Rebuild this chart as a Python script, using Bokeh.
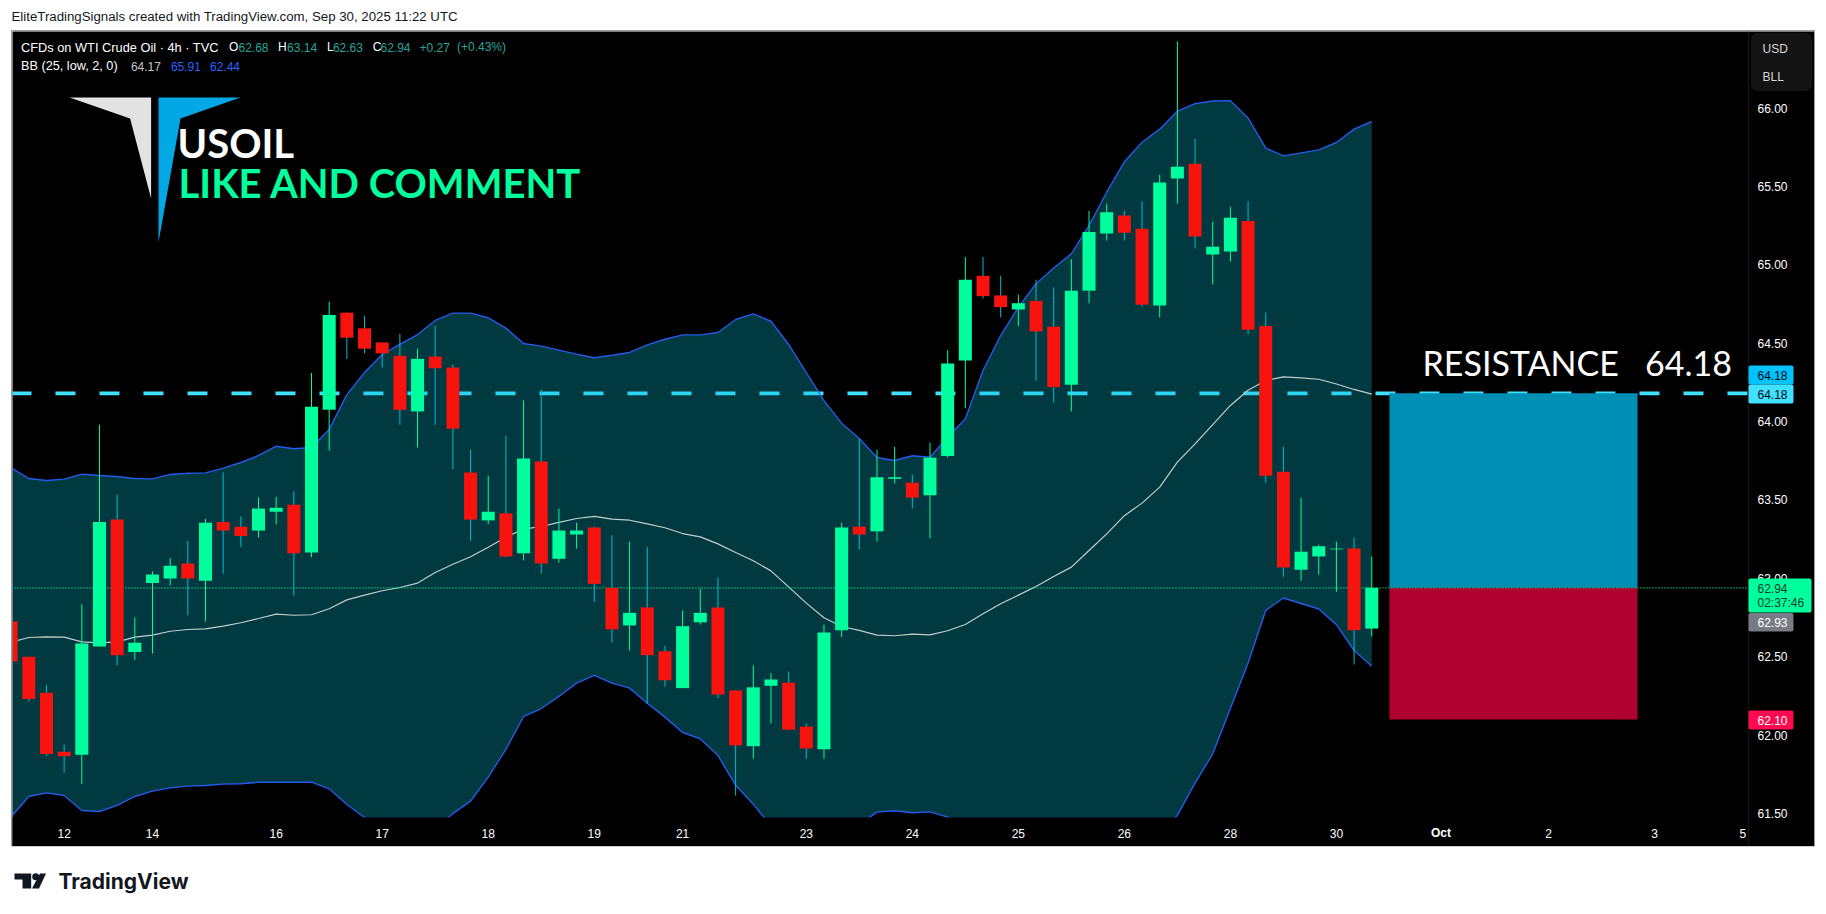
from bokeh.plotting import figure
from bokeh.layouts import column
from bokeh.models import (ColumnDataSource, Label, BoxAnnotation, Range1d, FixedTicker,
                          NumeralTickFormatter)
from bokeh.embed import file_html
from bokeh.resources import INLINE

# ---------- data: 4h candles, index 0 is the first one cut by the left edge ----------
open_ = [62.725,62.50,62.27,61.895,61.875,62.565,63.375,62.53,62.97,63.00,63.095,62.985,63.36,63.33,63.305,63.425,
         63.47,63.165,64.075,64.695,64.595,64.505,64.42,64.065,64.415,64.345,63.675,63.37,63.415,63.16,63.745,63.125,
         63.28,63.325,62.94,62.70,62.815,62.535,62.30,62.72,62.815,62.285,61.93,62.315,62.335,62.055,61.91,62.67,
         63.33,63.30,63.635,63.61,63.53,63.78,64.39,64.93,64.805,64.715,64.77,64.605,64.235,64.835,65.20,65.315,
         65.23,64.74,65.55,65.645,65.065,65.085,65.28,64.61,63.68,63.055,63.14,63.185,63.19,62.68]
high = [62.785,62.50,62.32,61.94,62.835,63.98,63.535,62.75,63.045,63.13,63.24,63.38,63.675,63.395,63.515,63.52,
        63.555,64.31,64.765,64.695,64.675,64.505,64.56,64.465,64.61,64.365,63.82,63.655,63.91,64.135,64.205,63.445,
        63.355,63.33,63.275,63.235,63.20,62.57,62.795,62.935,63.005,62.285,62.445,62.395,62.405,62.075,62.705,63.355,
        63.89,63.82,63.84,63.66,63.865,64.455,65.05,65.05,64.93,64.81,64.905,64.855,65.035,65.345,65.39,65.345,
        65.405,65.575,66.425,65.805,65.275,65.37,65.405,64.695,63.84,63.515,63.215,63.235,63.26,63.14]
low = [62.33,62.215,61.865,61.76,61.69,62.565,62.445,62.48,62.52,62.955,62.765,62.725,63.03,63.20,63.26,63.345,
       62.89,63.135,63.815,64.40,64.435,64.345,63.98,63.835,63.98,63.695,63.24,63.345,63.135,63.115,63.03,63.10,
       63.19,62.85,62.59,62.54,62.20,62.31,62.30,62.705,62.235,61.615,61.85,62.075,62.035,61.85,61.85,62.625,
       63.185,63.235,63.605,63.445,63.255,63.77,64.085,64.785,64.665,64.61,64.26,64.12,64.065,64.755,65.155,65.155,
       64.735,64.665,65.39,65.105,64.875,65.02,64.555,63.61,63.01,62.985,63.025,62.915,62.45,62.63]
close = [62.47,62.23,61.88,61.865,62.585,63.36,62.51,62.59,63.025,63.08,63.00,63.355,63.305,63.27,63.445,63.45,
         63.16,64.095,64.68,64.535,64.465,64.435,64.075,64.40,64.34,63.955,63.375,63.425,63.14,63.765,63.095,63.305,
         63.305,62.965,62.675,62.78,62.51,62.35,62.695,62.78,62.26,61.935,62.305,62.355,62.035,61.915,62.655,63.325,
         63.28,63.645,63.645,63.515,63.77,64.37,64.905,64.80,64.73,64.755,64.575,64.22,64.835,65.21,65.335,65.205,
         64.745,65.525,65.625,65.18,65.115,65.30,64.585,63.655,63.07,63.17,63.205,63.19,62.67,62.94]

bb_upper = [63.705,63.637,63.624,63.633,63.665,63.656,63.65,63.637,63.635,63.663,63.671,63.673,63.703,63.739,63.784,63.843,
            63.827,63.835,63.95,64.172,64.313,64.428,64.492,64.555,64.645,64.692,64.692,64.662,64.596,64.498,64.481,64.456,
            64.43,64.407,64.423,64.441,64.489,64.525,64.553,64.553,64.568,64.651,64.687,64.64,64.492,64.313,64.134,63.99,
            63.892,63.771,63.752,63.782,63.773,63.90,64.018,64.326,64.549,64.73,64.879,64.98,65.07,65.25,65.463,65.657,
            65.782,65.865,65.98,66.028,66.045,66.047,65.937,65.744,65.695,65.714,65.733,65.78,65.865,65.914]
bb_mid = [62.593,62.623,62.627,62.625,62.595,62.589,62.595,62.625,62.638,62.663,62.674,62.678,62.695,62.717,62.744,62.772,
          62.765,62.768,62.806,62.863,62.893,62.921,62.942,62.97,63.038,63.09,63.138,63.199,63.263,63.314,63.331,63.357,
          63.382,63.395,63.378,63.371,63.348,63.323,63.286,63.265,63.22,63.165,63.112,63.048,62.946,62.842,62.749,62.693,
          62.668,62.638,62.634,62.644,62.64,62.666,62.706,62.774,62.838,62.893,62.948,63.012,63.072,63.178,63.284,63.40,
          63.48,63.582,63.741,63.858,63.981,64.103,64.20,64.262,64.285,64.279,64.27,64.24,64.205,64.175]
bb_lower = [61.479,61.609,61.632,61.615,61.52,61.513,61.552,61.609,61.643,61.664,61.675,61.679,61.688,61.69,61.70,61.70,
            61.70,61.70,61.658,61.558,61.475,61.36,61.28,61.28,61.40,61.50,61.579,61.732,61.909,62.119,62.17,62.247,
            62.332,62.381,62.332,62.30,62.204,62.115,62.017,61.977,61.871,61.68,61.56,61.42,61.25,61.10,61.05,61.10,
            61.43,61.509,61.518,61.505,61.511,61.477,61.41,61.36,61.30,61.20,61.10,61.00,60.95,60.90,60.90,61.00,
            61.15,61.35,61.49,61.694,61.881,62.17,62.46,62.795,62.875,62.84,62.805,62.705,62.54,62.44]

bar_index = list(range(-1, len(open_) - 1))
date_ticks = [2, 7, 14, 20, 26, 32, 37, 44, 50, 56, 62, 68, 74, 80, 86, 92, 97]
date_labels = ["12", "14", "16", "17", "18", "19", "21", "23", "24", "25", "26", "28", "30", "", "2", "3", "5"]
price_ticks = [61.5, 62.0, 62.5, 63.0, 63.5, 64.0, 64.5, 65.0, 65.5, 66.0]
resistance = 64.18
last_price = 62.94
stop_price = 62.10
box_left, box_right = 77.0, 91.04
x_pane_end = 97.32
y_pane_low = 61.475

GREEN = "#00ff9d"
RED = "#f7130e"
WICK_RED = "#00bcd4"
FONT = "Liberation Sans"

# ---------- main chart: the frame covers the price and time scales too ----------
p = figure(width=1802, height=815, output_backend="svg", toolbar_location=None,
           x_range=Range1d(-0.922, 101.055), y_range=Range1d(61.29, 66.488),
           y_axis_location="right", background_fill_color="black", border_fill_color="black",
           min_border=0, outline_line_color=None, margin=(0, 0, 0, 4),
           styles={"outline": "1px solid #9a9a9a"})
p.xgrid.visible = False
p.ygrid.visible = False

xa = p.xaxis[0]
xa.fixed_location = y_pane_low
xa.ticker = FixedTicker(ticks=date_ticks)
xa.major_label_overrides = dict(zip(date_ticks, date_labels))
xa.major_tick_line_color = None
xa.minor_tick_line_color = None
xa.axis_line_color = None
xa.major_label_text_color = "white"
xa.major_label_text_font = FONT
xa.major_label_text_font_size = "12px"
xa.major_label_standoff = 6

ya = p.yaxis[0]
ya.fixed_location = x_pane_end
ya.ticker = FixedTicker(ticks=price_ticks)
ya.formatter = NumeralTickFormatter(format="0.00")
ya.major_tick_line_color = None
ya.minor_tick_line_color = None
ya.axis_line_color = "#161616"
ya.major_label_text_color = "white"
ya.major_label_text_font = FONT
ya.major_label_text_font_size = "12px"
ya.major_label_standoff = 3

# resistance line, under the band
p.line([-0.98, x_pane_end], [resistance, resistance], line_color="#40e0ff", line_width=3.6, line_dash="20 24")

# Bollinger band
p.varea(x=bar_index, y1=bb_lower, y2=bb_upper, fill_color="#00bcd4", fill_alpha=0.3)
p.line(bar_index, bb_mid, line_color="#c4cdce", line_width=1.2)
p.line(bar_index, bb_upper, line_color="#2962ff", line_width=1.4, line_alpha=0.9)
p.line(bar_index, bb_lower, line_color="#2962ff", line_width=1.4, line_alpha=0.9)

# time scale strip hides what the band does below the pane
p.quad(left=[-2], right=[x_pane_end], top=[y_pane_low], bottom=[61.2], fill_color="black", line_color=None)

# position box
p.quad(left=[box_left], right=[box_right], top=[resistance], bottom=[last_price], fill_color="#008fb4", line_color=None)
p.quad(left=[box_left], right=[box_right], top=[last_price], bottom=[stop_price], fill_color="#b00030", line_color=None)

# last price line
p.line([-2, x_pane_end], [last_price, last_price], line_color=GREEN, line_width=1.3, line_dash="1 2")

# candles
up = [c >= o for o, c in zip(open_, close)]
src = ColumnDataSource(dict(
    x=bar_index, high=high, low=low,
    top=[max(o, c) for o, c in zip(open_, close)],
    bottom=[min(o, c) for o, c in zip(open_, close)],
    body=[GREEN if u else RED for u in up],
    wick=[GREEN if u else WICK_RED for u in up]))
p.segment(x0="x", x1="x", y0="low", y1="high", source=src, line_color="wick", line_width=1)
p.vbar(x="x", width=0.736, top="top", bottom="bottom", source=src, fill_color="body", line_color=None)


def cx(px):
    return px - 12


def cy(py):
    return py - 31


def data_x(px):
    return -0.922 + (px - 12) * (101.055 + 0.922) / 1802


def data_y(py):
    return 66.488 - (py - 31) * (66.488 - 61.29) / 815


def txt(page_x, page_y, s, color="white", size="12px", font=FONT, style="normal", align="left", level="annotation"):
    p.add_layout(Label(x=cx(page_x), y=cy(page_y), x_units="canvas", y_units="canvas", text=s,
                       text_color=color, text_font_size=size, text_font=font, text_font_style=style,
                       text_align=align, text_baseline="middle", level=level))


def badge(x0, x1, y0, y1, color, line=None, radius=2):
    p.add_layout(BoxAnnotation(left=cx(x0), right=cx(x1), top=cy(y0), bottom=cy(y1),
                               left_units="canvas", right_units="canvas", top_units="canvas", bottom_units="canvas",
                               fill_color=color, fill_alpha=1, line_color=line, level="annotation",
                               border_radius=radius, editable=False))


# logo
p.patch([data_x(v) for v in (69, 150.6, 150.6, 129.6)], [data_y(v) for v in (97, 97, 198, 118)], fill_color="#e2e2e2", line_color=None)
p.patch([data_x(v) for v in (158, 240, 180, 158)], [data_y(v) for v in (97, 97, 118, 242)], fill_color="#00a9e6", line_color=None)

# watermark texts
txt(177, 142, "USOIL", size="40px", font="Lato", style="bold")
txt(178, 182, "LIKE AND COMMENT", color=GREEN, size="40px", font="Lato", style="bold")
txt(1422, 362, "RESISTANCE\u00a0\u00a0\u00a064.18", size="34px", font="Lato")

# legend lines
TEAL = "#26a69a"
for x, s, c, sz in [(20.5, "CFDs on WTI Crude Oil · 4h · TVC", "white", "12.8px"), (228.5, "O", "white", "12px"), (238, "62.68", TEAL, "12px"),
                    (277.5, "H", "white", "12px"), (286.6, "63.14", TEAL, "12px"), (326.5, "L", "white", "12px"), (332.4, "62.63", TEAL, "12px"),
                    (372.3, "C", "white", "12px"), (380, "62.94", TEAL, "12px"), (419, "+0.27", TEAL, "12px"), (456.5, "(+0.43%)", TEAL, "12px")]:
    txt(x, 46.7, s, color=c, size=sz)
for x, s, c, sz in [(20.5, "BB (25, low, 2, 0)", "white", "12.7px"), (130.4, "64.17", "#c8c8c8", "12px"), (170.4, "65.91", "#2962ff", "12px"), (209.5, "62.44", "#2962ff", "12px")]:
    txt(x, 65.7, s, color=c, size=sz)

# x axis Oct in bold
txt(1440.5, 832.7, "Oct", style="bold", align="center")

# currency / unit box
badge(1751, 1811, 33, 90, "#131313", line="#2e2e2e", radius=6)
txt(1762, 48, "USD", color="#d8d8d8")
txt(1762, 76, "BLL", color="#d8d8d8")

# price badges
badge(1748, 1793, 365, 384, "#00c2ff")
badge(1748, 1793, 384, 403, "#40e0ff")
badge(1748, 1811, 578, 612, GREEN)
badge(1748, 1793, 612.5, 631, "#787b86")
badge(1748, 1793, 710, 729, "#ff0a50")
txt(1757, 374.5, "64.18", color="#0a0a0a")
txt(1757, 393.5, "64.18", color="#0a0a0a")
txt(1757, 587.5, "62.94", color="#0c3b2a")
txt(1757, 602.5, "02:37:46", color="#0c3b2a")
txt(1757, 621.5, "62.93")
txt(1757, 719.5, "62.10")

# ---------- header strip ----------
head = figure(width=1810, height=23, output_backend="svg", toolbar_location=None, x_range=(0, 1810), y_range=(23, 0),
              x_axis_type=None, y_axis_type=None, min_border=0, outline_line_color=None,
              background_fill_color="white", border_fill_color="white", margin=(0, 0, 0, 0))
head.add_layout(Label(x=3, y=8, text="EliteTradingSignals created with TradingView.com, Sep 30, 2025 11:22 UTC",
                      text_color="#131722", text_font=FONT, text_font_size="13.25px", text_baseline="middle"))

# ---------- footer strip ----------
foot = figure(width=1810, height=59, output_backend="svg", toolbar_location=None, x_range=(8, 1818), y_range=(905, 846),
              x_axis_type=None, y_axis_type=None, min_border=0, outline_line_color=None,
              background_fill_color="white", border_fill_color="white", margin=(0, 0, 0, 0))
foot.patch([14, 30.7, 30.7, 22, 22, 14], [873, 873, 888, 888, 879, 879], fill_color="#131722", line_color=None)
foot.scatter([35.2], [876.3], size=7, fill_color="#131722", line_color=None)
foot.patch([39.5, 45.5, 38.5, 31.5], [873, 873, 888, 888], fill_color="#131722", line_color=None)
foot.add_layout(Label(x=58, y=880.5, text="TradingView", text_color="#131722", text_font="Inter", text_font_style="bold",
                      text_font_size="21px", text_baseline="middle"))

page = column(head, p, foot, spacing=0, margin=(8, 0, 0, 8))
open("out.html", "w").write(file_html(page, INLINE))
